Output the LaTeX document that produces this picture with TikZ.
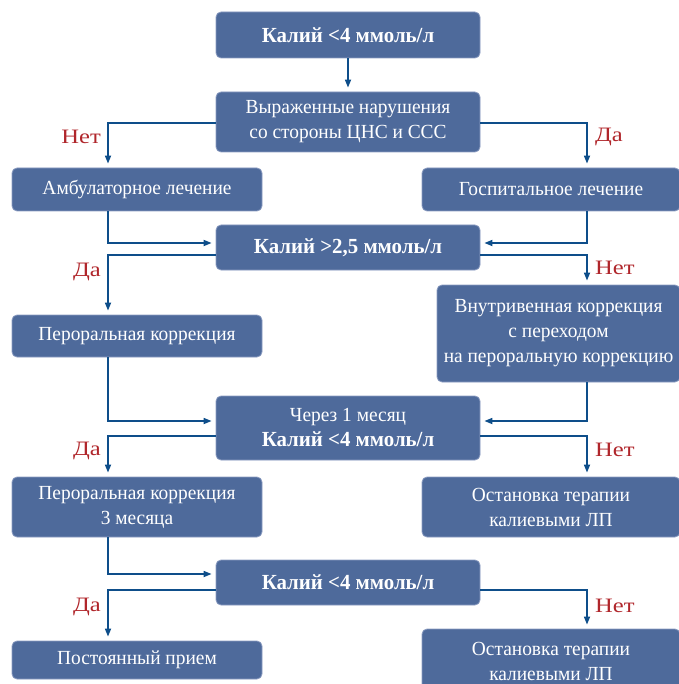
\documentclass[tikz,border=0pt]{standalone}
\usepackage{fontspec}
\setmainfont{Liberation Serif}[FakeStretch=0.97]
\newfontfamily\labfont{Liberation Serif}[FakeStretch=1.2]
\usetikzlibrary{arrows.meta}
\definecolor{boxfill}{HTML}{4E6A9B}
\definecolor{boxedge}{HTML}{8A9BC0}
\definecolor{linecol}{HTML}{0E4E8A}
\definecolor{labred}{HTML}{B0262B}
\newcommand{\bk}[1]{{\fontsize{21.5}{25}\selectfont\bfseries #1}}
\begin{document}
\begin{tikzpicture}[x=1pt,y=-1pt,
  box/.style={draw=boxedge, line width=0.8pt, fill=boxfill, rounded corners=5pt, text=white, align=center, inner sep=0pt, font=\fontsize{20}{25}\selectfont},
  conn/.style={draw=linecol, line width=1.6pt, -{Triangle[length=8pt,width=6pt]}, shorten >=4pt},
  lab/.style={text=labred, font=\labfont\fontsize{20.5}{24}\selectfont, inner sep=0pt}]
\useasboundingbox (0,0) rectangle (678,684);
\coordinate (LX) at (108,0);
\coordinate (RX) at (587,0);
% boxes
\node[box, minimum width=264pt, minimum height=46pt] (A) at (348,35) {\bk{Калий <4 ммоль/л}};
\node[box, minimum width=264pt, minimum height=60pt] (B) at (348,122) {Выраженные нарушения\\со стороны ЦНС и ССС};
\node[box, minimum width=250pt, minimum height=43pt] (C) at (137,189.5) {Амбулаторное лечение};
\node[box, minimum width=258pt, minimum height=43pt] (D) at (551,189.5) {Госпитальное лечение};
\node[box, minimum width=264pt, minimum height=45pt] (E) at (348,247.5) {\bk{Калий >2,5 ммоль/л}};
\node[box, minimum width=250pt, minimum height=42pt] (F) at (137,336) {Пероральная коррекция};
\node[box, minimum width=243pt, minimum height=97pt] (G) at (558.5,333.5) {Внутривенная коррекция\\с переходом\\на пероральную коррекцию};
\node[box, minimum width=264pt, minimum height=64pt] (H) at (348,428) {Через 1 месяц\\\bk{Калий <4 ммоль/л}};
\node[box, minimum width=250pt, minimum height=60pt] (I) at (137,507) {Пероральная коррекция\\3 месяца};
\node[box, minimum width=258pt, minimum height=60pt] (J) at (551,507) {Остановка терапии\\калиевыми ЛП};
\node[box, minimum width=264pt, minimum height=45pt] (K) at (348,582.5) {\bk{Калий <4 ммоль/л}};
\node[box, minimum width=250pt, minimum height=38pt] (L) at (137,660) {Постоянный прием};
\node[box, minimum width=258pt, minimum height=64pt] (M) at (551,661) {Остановка терапии\\калиевыми ЛП};
% connectors
\draw[conn] (A) -- (B);
\draw[conn] ([yshift=-1pt]B.west) -| (C.north -| LX);
\draw[conn] ([yshift=-1pt]B.east) -| (D.north -| RX);
\draw[conn] (C.south -| LX) |- ([yshift=4.5pt]E.west);
\draw[conn] (D.south -| RX) |- ([yshift=4.5pt]E.east);
\draw[conn] ([yshift=-7.5pt]E.west) -| (F.north -| LX);
\draw[conn] ([yshift=-7.5pt]E.east) -| (G.north -| RX);
\draw[conn] (F.south -| LX) |- ([yshift=7pt]H.west);
\draw[conn] (G.south -| RX) |- ([yshift=7pt]H.east);
\draw[conn] ([yshift=-8pt]H.west) -| (I.north -| LX);
\draw[conn] ([yshift=-8pt]H.east) -| (J.north -| RX);
\draw[conn] (I.south -| LX) |- ([yshift=8.5pt]K.west);
\draw[conn] ([yshift=-7.5pt]K.west) -| (L.north -| LX);
\draw[conn] ([yshift=-7.5pt]K.east) -| (M.north -| RX);
% labels
\node[lab, anchor=east] (l1) at (101,137) {Нет};
\node[lab, anchor=west] (r1) at (595,137) {Да};
\node[lab, anchor=east] (l2) at (101,272) {Да};
\node[lab, anchor=west] (r2) at (595,268) {Нет};
\node[lab, anchor=east] (l3) at (101,451) {Да};
\node[lab, anchor=west] (r3) at (595,450) {Нет};
\node[lab, anchor=east] (l4) at (101,607) {Да};
\node[lab, anchor=west] (r4) at (595,606) {Нет};
\end{tikzpicture}
\end{document}
